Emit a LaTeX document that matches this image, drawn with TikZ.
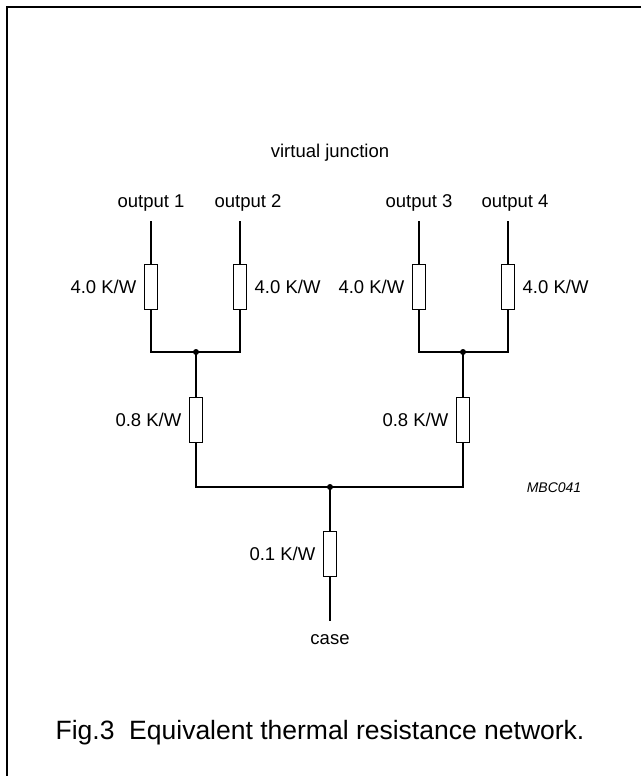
\documentclass[tikz,border=0pt]{standalone}
\usepackage{fontspec}
\setmainfont{Liberation Sans}
\tikzset{
  res/.style={draw,fill=white,rectangle,minimum width=13pt,minimum height=45pt,inner sep=0pt,line width=1.2pt},
  lbl/.style={font=\fontsize{18.5}{21}\selectfont,inner sep=2pt},
  every label/.style={lbl},
  label distance=5pt
}
\begin{document}
\begin{tikzpicture}[x=1pt,y=-1pt,line width=1.2pt]
\useasboundingbox (0,0) rectangle (641,776);
\draw[line width=2pt] (641,7)--(7,7)--(7,776);
\node[lbl] (vj) at (330,153){virtual junction};
% outputs
\node[lbl] (o1) at (151,203){output 1};
\node[lbl] (o2) at (248,203){output 2};
\node[lbl] (o3) at (419,203){output 3};
\node[lbl] (o4) at (515,203){output 4};
\coordinate (t1) at (151,221);
\coordinate (t2) at (240,221);
\coordinate (t3) at (419,221);
\coordinate (t4) at (508,221);
\node[res,label=left:{4.0 K/W}] (r1) at (151,287){};
\node[res,label=right:{4.0 K/W}] (r2) at (240,287){};
\node[res,label=left:{4.0 K/W}] (r3) at (419,287){};
\node[res,label=right:{4.0 K/W}] (r4) at (508,287){};
\draw (t1)--(r1) (t2)--(r2) (t3)--(r3) (t4)--(r4);
% junctions
\coordinate (j1) at (196,352);
\coordinate (j2) at (463,352);
\coordinate (j3) at (330,487);
\node[res,label=left:{0.8 K/W}] (r5) at (196,420){};
\node[res,label=left:{0.8 K/W}] (r6) at (463,420){};
\node[res,label=left:{0.1 K/W}] (r7) at (330,554){};
\draw (r1.south) |- (j1) -| (r2.south);
\draw (r3.south) |- (j2) -| (r4.south);
\draw (j1)--(r5.north) (j2)--(r6.north);
\draw (r5.south) |- (j3) -| (r6.south);
\draw (j3)--(r7.north);
\coordinate (tc) at (330,621);
\draw (r7.south)--(tc);
\node[lbl] (cs) at (330,640){case};
\fill (j1) circle (3) (j2) circle (3) (j3) circle (3);
\node[font=\fontsize{14}{16}\selectfont\itshape] (code) at (554,488){MBC041};
\node[font=\fontsize{26.5}{30}\selectfont] (cap) at (320,733){Fig.3\ \ Equivalent thermal resistance network.};
\end{tikzpicture}
\end{document}
